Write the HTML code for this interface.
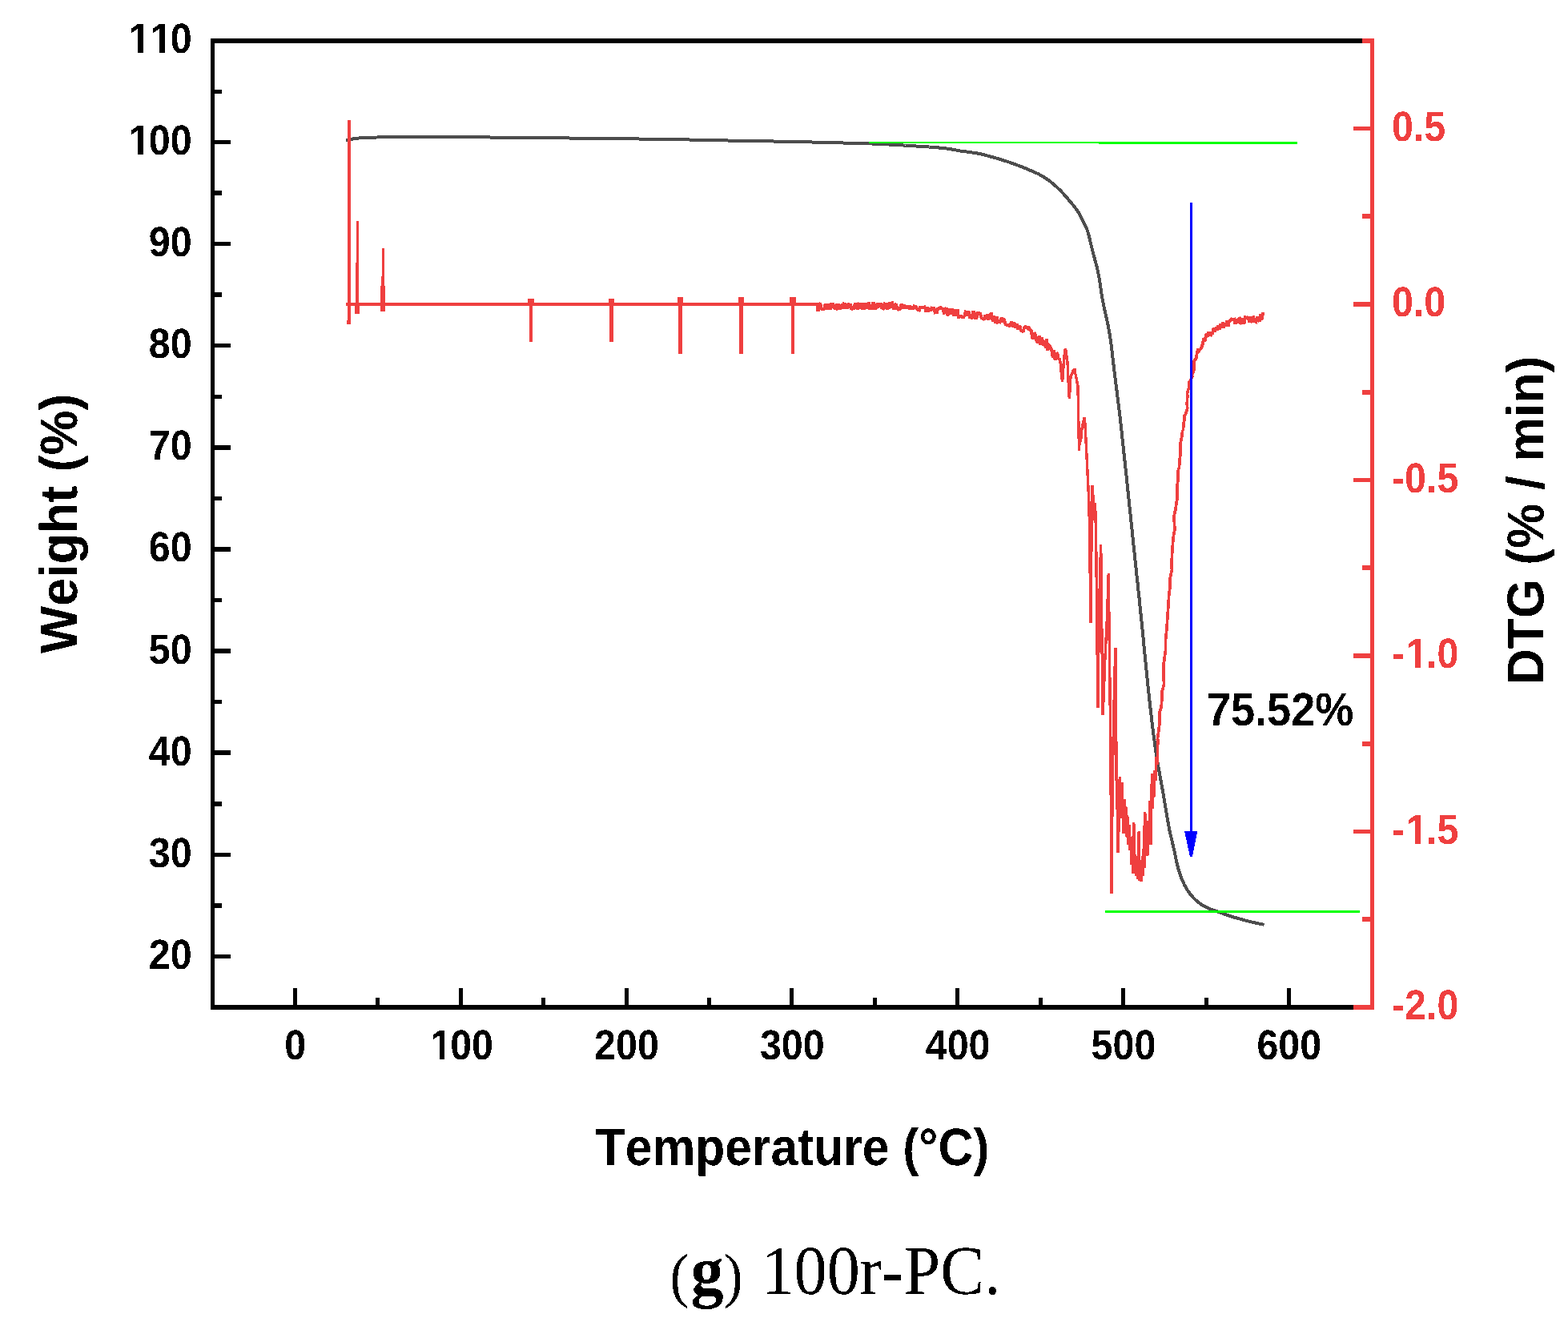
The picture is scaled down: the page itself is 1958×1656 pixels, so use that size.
<!DOCTYPE html>
<html lang="en"><head><meta charset="utf-8"><title>(g) 100r-PC. TG / DTG</title>
<style>
html,body{margin:0;padding:0;background:#ffffff;}
body{width:1958px;height:1656px;overflow:hidden;}
svg{display:block;}
text{font-kerning:none;text-rendering:geometricPrecision;}
.sb{font-family:"Liberation Sans",Arial,Helvetica,sans-serif;font-weight:bold;}
.sf{font-family:"Liberation Serif","Times New Roman",Times,serif;}
</style></head><body>
<svg width="1958" height="1656" viewBox="0 0 1958 1656">
<rect x="0" y="0" width="1958" height="1656" fill="#ffffff"/>
<defs><filter id="bw" x="-5%" y="-5%" width="110%" height="110%" color-interpolation-filters="sRGB"><feComponentTransfer><feFuncA type="discrete" tableValues="0 1"/></feComponentTransfer></filter><clipPath id="k0"><path clip-rule="evenodd" d="M-400,-200H400V100H-400ZM-77.20,-4.94H-67.46V3H-77.20ZM-60.82,-4.94H-52.18V3H-60.82Z"/></clipPath><clipPath id="k1"><path clip-rule="evenodd" d="M-400,-200H400V100H-400ZM-77.20,-4.94H-67.46V3H-77.20ZM-60.82,-4.94H-52.18V3H-60.82ZM-50.29,-4.94H-40.54V3H-50.29ZM-33.90,-4.94H-25.26V3H-33.90Z"/></clipPath><clipPath id="k2"><path clip-rule="evenodd" d="M-400,-200H400V100H-400ZM-36.83,-4.94H-27.08V3H-36.83ZM-20.44,-4.94H-11.81V3H-20.44Z"/></clipPath><clipPath id="k3"><path clip-rule="evenodd" d="M-400,-200H400V100H-400ZM19.67,-4.94H29.41V3H19.67ZM36.05,-4.94H44.69V3H36.05Z"/></clipPath><clipPath id="k4"><path clip-rule="evenodd" d="M-400,-200H400V100H-400ZM19.67,-4.94H29.41V3H19.67ZM36.05,-4.94H44.69V3H36.05Z"/></clipPath></defs>
<path d="M432.0,175.5 L434.9,174.8 L437.9,174.1 L440.8,173.4 L443.7,172.8 L446.7,172.6 L449.7,172.4 L452.7,172.3 L455.7,172.2 L458.7,172.1 L461.7,171.9 L464.7,171.8 L467.7,171.6 L470.7,171.5 L473.7,171.4 L476.7,171.4 L479.7,171.4 L482.7,171.3 L485.7,171.3 L488.7,171.3 L491.7,171.3 L494.7,171.3 L497.7,171.3 L500.7,171.2 L503.7,171.2 L506.7,171.2 L509.7,171.2 L512.7,171.2 L515.7,171.2 L518.7,171.2 L521.7,171.2 L524.7,171.2 L527.7,171.2 L530.7,171.2 L533.7,171.2 L536.7,171.2 L539.7,171.2 L542.7,171.2 L545.7,171.2 L548.7,171.2 L551.7,171.2 L554.7,171.2 L557.7,171.3 L560.7,171.3 L563.7,171.3 L566.7,171.3 L569.7,171.3 L572.7,171.3 L575.7,171.3 L578.7,171.3 L581.7,171.3 L584.7,171.3 L587.7,171.4 L590.7,171.4 L593.7,171.4 L596.7,171.4 L599.7,171.4 L602.7,171.4 L605.7,171.4 L608.7,171.4 L611.7,171.5 L614.7,171.5 L617.7,171.5 L620.7,171.5 L623.7,171.6 L626.7,171.6 L629.7,171.6 L632.7,171.7 L635.7,171.7 L638.7,171.7 L641.7,171.8 L644.7,171.8 L647.7,171.8 L650.7,171.9 L653.7,171.9 L656.7,171.9 L659.7,172.0 L662.7,172.0 L665.7,172.0 L668.7,172.1 L671.7,172.1 L674.7,172.1 L677.7,172.1 L680.7,172.2 L683.7,172.2 L686.7,172.2 L689.7,172.3 L692.7,172.3 L695.7,172.3 L698.7,172.3 L701.7,172.4 L704.7,172.4 L707.7,172.4 L710.7,172.5 L713.7,172.5 L716.7,172.5 L719.7,172.5 L722.7,172.6 L725.7,172.6 L728.7,172.6 L731.7,172.7 L734.7,172.7 L737.7,172.7 L740.7,172.8 L743.7,172.8 L746.7,172.8 L749.7,172.9 L752.7,172.9 L755.7,172.9 L758.7,173.0 L761.7,173.0 L764.7,173.0 L767.7,173.1 L770.7,173.1 L773.7,173.1 L776.7,173.2 L779.7,173.2 L782.7,173.3 L785.7,173.3 L788.7,173.3 L791.7,173.4 L794.7,173.4 L797.7,173.5 L800.7,173.5 L803.7,173.6 L806.7,173.6 L809.7,173.7 L812.7,173.7 L815.7,173.7 L818.7,173.8 L821.7,173.8 L824.7,173.9 L827.7,173.9 L830.7,174.0 L833.7,174.0 L836.7,174.1 L839.7,174.1 L842.7,174.2 L845.7,174.2 L848.7,174.3 L851.7,174.3 L854.6,174.4 L857.6,174.4 L860.6,174.5 L863.6,174.5 L866.6,174.6 L869.6,174.7 L872.6,174.7 L875.6,174.8 L878.6,174.8 L881.6,174.9 L884.6,175.0 L887.6,175.0 L890.6,175.1 L893.6,175.2 L896.6,175.2 L899.6,175.3 L902.6,175.3 L905.6,175.4 L908.6,175.5 L911.6,175.5 L914.6,175.6 L917.6,175.6 L920.6,175.7 L923.6,175.8 L926.6,175.8 L929.6,175.9 L932.6,175.9 L935.6,176.0 L938.6,176.0 L941.6,176.1 L944.6,176.1 L947.6,176.2 L950.6,176.2 L953.6,176.3 L956.6,176.3 L959.6,176.4 L962.6,176.4 L965.6,176.5 L968.6,176.5 L971.6,176.6 L974.6,176.6 L977.6,176.7 L980.6,176.7 L983.6,176.8 L986.6,176.8 L989.6,176.9 L992.6,177.0 L995.6,177.0 L998.6,177.1 L1001.6,177.2 L1004.6,177.2 L1007.6,177.3 L1010.6,177.4 L1013.6,177.5 L1016.6,177.6 L1019.6,177.7 L1022.6,177.7 L1025.6,177.8 L1028.6,177.9 L1031.6,178.0 L1034.6,178.0 L1037.6,178.1 L1040.6,178.2 L1043.6,178.2 L1046.6,178.3 L1049.6,178.4 L1052.6,178.5 L1055.6,178.5 L1058.6,178.6 L1061.6,178.7 L1064.6,178.7 L1067.6,178.8 L1070.6,178.9 L1073.6,179.0 L1076.6,179.1 L1079.6,179.2 L1082.6,179.3 L1085.6,179.4 L1088.6,179.5 L1091.6,179.6 L1094.6,179.8 L1097.6,179.9 L1100.6,180.0 L1103.6,180.2 L1106.6,180.3 L1109.6,180.5 L1112.6,180.7 L1115.6,180.8 L1118.6,181.0 L1121.6,181.2 L1124.5,181.3 L1127.5,181.5 L1130.5,181.7 L1133.5,181.8 L1136.5,182.0 L1139.5,182.2 L1142.5,182.4 L1145.5,182.6 L1148.5,182.7 L1151.5,182.9 L1154.5,183.1 L1157.5,183.3 L1160.5,183.6 L1163.5,183.8 L1166.5,184.0 L1169.5,184.3 L1172.5,184.5 L1175.4,184.8 L1178.4,185.1 L1181.4,185.4 L1184.4,185.8 L1187.3,186.3 L1190.3,186.8 L1193.2,187.4 L1196.2,188.0 L1199.1,188.5 L1202.1,188.9 L1205.1,189.3 L1208.1,189.6 L1211.0,190.0 L1214.0,190.5 L1217.0,190.9 L1219.9,191.4 L1222.9,192.0 L1225.8,192.6 L1228.7,193.3 L1231.6,194.1 L1234.5,195.0 L1237.4,195.8 L1240.3,196.5 L1243.2,197.3 L1246.1,198.1 L1248.9,199.0 L1251.8,199.9 L1254.7,200.8 L1257.5,201.7 L1260.4,202.7 L1263.2,203.7 L1266.0,204.6 L1268.9,205.7 L1271.7,206.7 L1274.5,207.8 L1277.3,208.9 L1280.0,210.0 L1282.8,211.2 L1285.6,212.4 L1288.3,213.6 L1291.1,214.8 L1293.8,216.0 L1296.5,217.2 L1299.2,218.6 L1301.8,220.1 L1304.3,221.7 L1306.9,223.4 L1309.3,225.1 L1311.7,226.9 L1314.1,228.7 L1316.4,230.7 L1318.6,232.7 L1320.8,234.7 L1323.0,236.8 L1325.1,238.9 L1327.1,241.1 L1329.1,243.3 L1331.1,245.6 L1333.1,247.9 L1335.0,250.2 L1337.0,252.4 L1338.9,254.7 L1340.8,257.1 L1342.6,259.4 L1344.4,261.9 L1346.1,264.4 L1347.7,266.9 L1349.1,269.5 L1350.5,272.2 L1351.9,274.8 L1353.2,277.5 L1354.5,280.2 L1355.9,283.0 L1357.1,285.7 L1358.1,288.5 L1359.0,291.4 L1359.7,294.3 L1360.4,297.2 L1361.1,300.1 L1361.8,303.1 L1362.5,306.0 L1363.2,308.9 L1363.9,311.8 L1364.7,314.7 L1365.4,317.6 L1366.2,320.5 L1367.0,323.4 L1367.8,326.3 L1368.6,329.2 L1369.4,332.1 L1370.0,335.0 L1370.7,337.9 L1371.3,340.9 L1371.9,343.8 L1372.5,346.7 L1373.0,349.7 L1373.5,352.7 L1373.9,355.6 L1374.3,358.6 L1374.7,361.6 L1375.2,364.5 L1375.6,367.5 L1376.1,370.5 L1376.6,373.4 L1377.2,376.4 L1377.8,379.3 L1378.4,382.2 L1379.0,385.2 L1379.7,388.1 L1380.3,391.0 L1381.0,394.0 L1381.6,396.9 L1382.3,399.8 L1382.9,402.8 L1383.6,405.7 L1384.1,408.7 L1384.7,411.6 L1385.2,414.5 L1385.7,417.5 L1386.2,420.5 L1386.6,423.4 L1387.0,426.4 L1387.4,429.4 L1387.8,432.3 L1388.2,435.3 L1388.5,438.3 L1388.9,441.3 L1389.2,444.3 L1389.5,447.2 L1389.9,450.2 L1390.2,453.2 L1390.6,456.2 L1390.9,459.2 L1391.3,462.2 L1391.6,465.1 L1392.0,468.1 L1392.4,471.1 L1392.7,474.1 L1393.1,477.0 L1393.5,480.0 L1393.9,483.0 L1394.3,486.0 L1394.7,488.9 L1395.0,491.9 L1395.4,494.9 L1395.8,497.9 L1396.2,500.8 L1396.5,503.8 L1396.9,506.8 L1397.3,509.8 L1397.6,512.8 L1398.0,515.7 L1398.3,518.7 L1398.7,521.7 L1399.0,524.7 L1399.3,527.7 L1399.7,530.6 L1400.0,533.6 L1400.3,536.6 L1400.7,539.6 L1401.0,542.6 L1401.3,545.5 L1401.6,548.5 L1401.9,551.5 L1402.3,554.5 L1402.6,557.5 L1402.9,560.5 L1403.2,563.4 L1403.5,566.4 L1403.8,569.4 L1404.2,572.4 L1404.5,575.4 L1404.8,578.4 L1405.1,581.3 L1405.4,584.3 L1405.7,587.3 L1406.0,590.3 L1406.4,593.3 L1406.7,596.3 L1407.0,599.2 L1407.3,602.2 L1407.6,605.2 L1407.9,608.2 L1408.2,611.2 L1408.6,614.2 L1408.9,617.1 L1409.2,620.1 L1409.5,623.1 L1409.8,626.1 L1410.1,629.1 L1410.4,632.1 L1410.7,635.1 L1411.1,638.0 L1411.4,641.0 L1411.7,644.0 L1412.0,647.0 L1412.3,650.0 L1412.6,653.0 L1412.9,655.9 L1413.2,658.9 L1413.6,661.9 L1413.9,664.9 L1414.2,667.9 L1414.5,670.9 L1414.8,673.8 L1415.1,676.8 L1415.4,679.8 L1415.7,682.8 L1416.1,685.8 L1416.4,688.8 L1416.7,691.7 L1417.0,694.7 L1417.3,697.7 L1417.6,700.7 L1417.9,703.7 L1418.3,706.7 L1418.6,709.6 L1418.9,712.6 L1419.2,715.6 L1419.5,718.6 L1419.8,721.6 L1420.2,724.6 L1420.5,727.5 L1420.8,730.5 L1421.1,733.5 L1421.4,736.5 L1421.7,739.5 L1422.1,742.5 L1422.4,745.4 L1422.7,748.4 L1423.0,751.4 L1423.3,754.4 L1423.6,757.4 L1423.9,760.4 L1424.2,763.4 L1424.5,766.3 L1424.8,769.3 L1425.1,772.3 L1425.4,775.3 L1425.7,778.3 L1426.0,781.3 L1426.3,784.3 L1426.6,787.2 L1426.9,790.2 L1427.2,793.2 L1427.5,796.2 L1427.8,799.2 L1428.1,802.2 L1428.4,805.2 L1428.6,808.2 L1428.9,811.2 L1429.2,814.1 L1429.5,817.1 L1429.8,820.1 L1430.1,823.1 L1430.4,826.1 L1430.7,829.1 L1431.0,832.1 L1431.3,835.1 L1431.6,838.0 L1431.9,841.0 L1432.2,844.0 L1432.5,847.0 L1432.8,850.0 L1433.1,853.0 L1433.4,856.0 L1433.7,858.9 L1434.0,861.9 L1434.4,864.9 L1434.7,867.9 L1435.0,870.9 L1435.3,873.9 L1435.7,876.8 L1436.0,879.8 L1436.3,882.8 L1436.7,885.8 L1437.0,888.8 L1437.3,891.7 L1437.7,894.7 L1438.0,897.7 L1438.4,900.7 L1438.7,903.7 L1439.1,906.6 L1439.5,909.6 L1439.8,912.6 L1440.2,915.6 L1440.6,918.5 L1441.0,921.5 L1441.4,924.5 L1441.8,927.4 L1442.2,930.4 L1442.6,933.4 L1443.0,936.3 L1443.4,939.3 L1443.8,942.3 L1444.3,945.2 L1444.8,948.2 L1445.2,951.1 L1445.8,954.1 L1446.3,957.1 L1446.8,960.0 L1447.4,963.0 L1447.9,965.9 L1448.5,968.9 L1449.0,971.8 L1449.6,974.8 L1450.1,977.7 L1450.7,980.7 L1451.2,983.6 L1451.7,986.6 L1452.3,989.5 L1452.8,992.5 L1453.3,995.4 L1453.8,998.4 L1454.3,1001.4 L1454.7,1004.3 L1455.2,1007.3 L1455.7,1010.3 L1456.2,1013.2 L1456.7,1016.2 L1457.2,1019.1 L1457.7,1022.1 L1458.2,1025.0 L1458.8,1028.0 L1459.3,1030.9 L1459.9,1033.9 L1460.4,1036.8 L1461.1,1039.8 L1461.7,1042.7 L1462.4,1045.6 L1463.1,1048.5 L1463.8,1051.4 L1464.5,1054.4 L1465.2,1057.3 L1465.8,1060.2 L1466.5,1063.1 L1467.1,1066.1 L1467.7,1069.0 L1468.3,1072.0 L1468.9,1074.9 L1469.6,1077.8 L1470.3,1080.8 L1471.0,1083.6 L1471.9,1086.5 L1472.8,1089.4 L1473.7,1092.3 L1474.7,1095.1 L1475.8,1098.0 L1477.0,1100.7 L1478.2,1103.4 L1479.5,1106.0 L1481.0,1108.7 L1482.6,1111.3 L1484.3,1113.8 L1486.1,1116.3 L1488.0,1118.6 L1489.9,1120.8 L1492.0,1122.9 L1494.2,1125.0 L1496.5,1126.9 L1499.0,1128.8 L1501.5,1130.5 L1504.1,1132.0 L1506.7,1133.3 L1509.4,1134.5 L1512.2,1135.6 L1515.0,1136.6 L1517.9,1137.6 L1520.8,1138.6 L1523.6,1139.6 L1526.4,1140.7 L1529.2,1141.7 L1532.1,1142.7 L1534.9,1143.6 L1537.8,1144.6 L1540.6,1145.5 L1543.5,1146.3 L1546.4,1147.1 L1549.3,1147.9 L1552.2,1148.7 L1555.1,1149.5 L1558.0,1150.2 L1560.9,1151.0 L1563.8,1151.7 L1566.7,1152.3 L1569.7,1153.0 L1572.6,1153.6 L1575.5,1154.2 L1578.5,1154.8 L1578.5,1154.8" fill="none" stroke="#4d4d4d" stroke-width="4.0" stroke-linejoin="round" stroke-linecap="butt" shape-rendering="crispEdges"/>
<g shape-rendering="crispEdges" fill="#ef3f3f">
<rect x="432" y="378" width="589" height="4"/>
<rect x="434" y="150" width="4" height="255"/>
<rect x="433" y="400" width="5" height="5"/>
<rect x="445" y="276" width="3" height="60"/>
<rect x="444" y="328" width="4" height="64"/>
<rect x="443" y="381" width="6" height="11"/>
<rect x="477" y="310" width="3" height="50"/>
<rect x="476" y="345" width="4" height="44"/>
<rect x="475" y="357" width="6" height="32"/>
<rect x="659" y="373" width="8" height="6"/>
<rect x="661" y="373" width="4" height="54"/>
<rect x="760" y="373" width="7" height="6"/>
<rect x="761" y="373" width="5" height="54"/>
<rect x="846" y="371" width="7" height="8"/>
<rect x="847" y="371" width="5" height="71"/>
<rect x="922" y="371" width="7" height="8"/>
<rect x="923" y="371" width="5" height="71"/>
<rect x="986" y="371" width="8" height="8"/>
<rect x="988" y="371" width="4" height="71"/>
</g>
<path d="M1020.5,380.0 L1021.5,389.0 L1023.0,379.5 L1023.8,379.2 L1024.4,378.7 L1025.1,386.7 L1026.0,385.5 L1026.9,385.9 L1027.9,386.1 L1028.9,386.1 L1029.8,384.5 L1030.8,378.9 L1031.8,386.5 L1032.6,379.6 L1033.7,384.6 L1034.4,386.6 L1035.2,385.1 L1036.1,379.8 L1036.9,386.5 L1037.9,378.6 L1039.0,384.8 L1040.0,378.5 L1040.9,384.9 L1041.9,380.0 L1042.6,386.7 L1043.2,379.7 L1043.9,386.2 L1044.9,385.8 L1045.5,385.2 L1046.6,379.4 L1047.7,384.6 L1048.6,384.8 L1049.4,384.8 L1050.0,379.9 L1051.1,385.3 L1051.9,379.1 L1052.8,385.8 L1053.9,379.6 L1054.8,379.9 L1055.9,379.3 L1056.5,385.7 L1057.1,379.1 L1057.8,385.5 L1058.7,379.0 L1059.7,380.5 L1060.6,380.0 L1061.4,385.1 L1062.2,379.8 L1063.1,385.3 L1064.1,385.7 L1065.1,384.9 L1066.1,384.8 L1066.9,384.6 L1067.7,378.7 L1068.5,384.8 L1069.3,378.6 L1070.1,380.3 L1070.9,386.3 L1072.0,380.0 L1073.0,378.7 L1073.7,379.9 L1074.7,379.8 L1075.5,385.3 L1076.6,384.4 L1077.7,386.7 L1078.5,378.5 L1079.2,386.3 L1080.1,379.9 L1080.9,380.5 L1081.8,378.7 L1082.4,386.0 L1083.5,378.5 L1084.4,378.9 L1085.1,379.1 L1085.9,386.6 L1086.8,380.0 L1087.9,386.2 L1088.6,385.6 L1089.7,378.8 L1090.7,378.7 L1091.3,386.4 L1091.9,380.0 L1092.8,385.5 L1093.8,384.5 L1094.5,380.5 L1095.5,380.4 L1096.4,385.1 L1097.2,379.3 L1098.0,379.9 L1098.6,379.0 L1099.4,380.2 L1100.2,378.8 L1101.0,385.8 L1101.8,379.5 L1102.7,386.0 L1103.6,385.6 L1104.5,379.6 L1105.3,378.4 L1106.1,386.2 L1106.9,380.3 L1107.9,386.4 L1108.9,378.9 L1109.7,379.3 L1110.3,386.2 L1111.0,380.4 L1112.0,384.4 L1113.0,378.7 L1114.0,378.4 L1114.9,384.5 L1115.8,379.1 L1116.5,386.6 L1117.1,379.6 L1119.0,380.8 L1120.4,384.9 L1121.8,386.5 L1123.6,386.0 L1124.9,381.5 L1126.1,380.2 L1127.9,385.6 L1129.2,380.8 L1131.0,385.5 L1132.6,381.7 L1133.8,385.7 L1135.7,382.0 L1137.0,386.7 L1138.9,382.4 L1140.3,386.6 L1141.5,382.3 L1142.6,382.7 L1143.9,383.1 L1145.3,386.5 L1146.7,387.2 L1148.0,387.5 L1149.3,383.0 L1150.5,384.1 L1152.2,384.2 L1153.5,383.9 L1154.6,383.3 L1156.5,389.3 L1157.6,383.3 L1159.3,389.8 L1161.0,384.7 L1162.2,388.7 L1163.6,384.8 L1164.6,385.2 L1166.4,385.1 L1167.5,390.1 L1168.8,389.5 L1170.0,389.9 L1171.1,385.5 L1173.0,384.9 L1174.7,384.0 L1176.2,385.4 L1177.3,385.9 L1179.2,392.1 L1180.2,386.1 L1181.5,384.5 L1182.7,393.8 L1184.2,392.6 L1186.1,385.2 L1187.8,392.2 L1189.0,385.3 L1190.9,394.1 L1192.7,386.1 L1194.2,394.6 L1195.5,386.2 L1196.6,395.6 L1198.3,395.6 L1199.4,395.2 L1200.5,395.2 L1202.1,396.2 L1203.3,396.3 L1204.4,394.4 L1206.2,388.0 L1207.7,395.0 L1209.4,388.4 L1211.1,396.3 L1212.2,396.6 L1213.7,396.8 L1214.9,389.6 L1216.4,389.6 L1218.2,397.2 L1219.6,396.8 L1220.8,390.0 L1222.0,391.0 L1223.8,391.7 L1225.6,397.0 L1227.5,397.8 L1229.3,399.1 L1230.5,393.3 L1231.7,398.7 L1233.2,392.3 L1234.3,399.9 L1235.8,393.2 L1236.9,392.3 L1238.2,392.0 L1239.9,401.8 L1241.2,393.9 L1243.1,403.4 L1244.8,394.9 L1246.0,402.2 L1247.6,401.6 L1248.8,402.1 L1250.7,396.3 L1252.0,402.3 L1253.5,398.0 L1255.1,403.5 L1256.2,405.5 L1258.0,405.9 L1259.9,406.1 L1261.4,407.6 L1263.1,401.6 L1264.7,408.5 L1266.3,402.3 L1268.2,409.8 L1270.1,404.7 L1271.3,411.5 L1273.3,406.5 L1274.7,412.5 L1276.1,413.0 L1277.7,414.7 L1279.0,409.0 L1280.2,408.0 L1282.2,408.9 L1283.5,410.2 L1284.8,408.3 L1286.5,412.3 L1287.8,413.6 L1289.6,423.3 L1291.5,415.2 L1292.7,417.8 L1294.0,424.5 L1296.0,428.3 L1297.6,419.3 L1299.6,431.0 L1301.1,420.9 L1302.7,431.5 L1304.5,425.4 L1305.7,434.4 L1307.1,423.4 L1308.4,437.6 L1309.5,430.4 L1311.4,433.2 L1313.2,436.3 L1314.8,446.6 L1316.0,437.5 L1317.7,450.2 L1319.1,440.5 L1320.6,442.5" fill="none" stroke="#ef3f3f" stroke-width="4.0" stroke-linejoin="miter" stroke-miterlimit="1.6" stroke-linecap="square" shape-rendering="crispEdges"/>
<path d="M1320.6,442.5 L1322.0,449.0 L1323.0,447.8 L1324.0,452.0 L1325.3,466.0 L1326.6,477.0 L1327.5,464.6 L1328.5,450.0 L1329.2,443.3 L1330.0,437.0 L1330.8,436.7 L1331.5,441.0 L1332.2,448.8 L1333.0,452.0 L1334.2,477.5 L1335.3,498.0 L1336.2,484.1 L1337.0,470.0 L1338.0,468.0 L1339.0,466.0 L1340.0,462.4 L1341.0,463.0 L1341.8,460.5 L1342.5,466.0 L1343.2,468.0 L1344.0,472.0 L1345.0,477.7 L1346.0,482.0 L1347.5,563.0 L1348.3,545.0 L1349.5,552.0 L1351.0,535.0 L1352.5,528.0 L1354.4,521.0 L1355.5,540.0 L1357.0,570.0 L1358.5,600.0 L1360.0,630.0 L1361.0,700.0 L1362.0,778.0 L1362.8,690.0 L1363.8,606.0 L1365.0,620.0 L1366.0,650.0 L1367.0,628.0 L1368.0,640.0 L1369.0,700.0 L1370.0,800.0 L1371.0,884.0 L1372.0,800.0 L1373.5,720.0 L1374.7,680.0 L1375.5,760.0 L1376.5,840.0 L1377.2,893.0 L1378.5,860.0 L1379.5,830.0 L1381.0,800.0 L1382.5,770.0 L1384.3,716.0 L1385.2,800.0 L1386.0,860.0 L1387.0,960.0 L1388.0,1116.0 L1389.0,1000.0 L1390.0,930.0 L1391.5,860.0 L1392.8,809.0 L1393.6,900.0 L1394.5,1010.0 L1394.8,972.6 L1395.2,1010.7 L1395.5,975.0 L1395.8,974.9 L1396.2,1065.0 L1396.5,1062.0 L1397.5,990.0 L1398.5,970.0 L1399.5,1020.0 L1399.8,979.0 L1400.2,1021.5 L1400.5,980.0 L1401.0,977.1 L1401.5,1011.1 L1402.0,1010.0 L1402.3,1007.5 L1402.7,1040.4 L1403.0,1040.0 L1404.0,1000.0 L1404.3,998.3 L1404.7,1031.0 L1405.0,1030.0 L1405.3,1007.4 L1405.7,1030.1 L1406.0,1008.0 L1407.0,1045.0 L1407.3,1017.7 L1407.7,1045.6 L1408.0,1020.0 L1409.0,1055.0 L1410.0,1030.0 L1411.0,1062.0 L1412.0,1045.0 L1413.0,1080.0 L1414.0,1060.0 L1414.3,1058.6 L1414.7,1090.5 L1415.0,1088.0 L1415.3,1027.2 L1415.7,1090.7 L1416.0,1030.0 L1416.3,1028.9 L1416.7,1086.4 L1417.0,1085.0 L1417.3,1067.0 L1417.7,1086.2 L1418.0,1070.0 L1418.3,1069.7 L1418.7,1094.2 L1419.0,1092.0 L1420.0,1078.0 L1420.3,1076.5 L1420.7,1097.7 L1421.0,1096.0 L1422.0,1040.0 L1422.3,1038.2 L1422.7,1099.7 L1423.0,1098.0 L1424.0,1085.0 L1424.4,1084.5 L1424.8,1101.0 L1425.2,1100.0 L1426.0,1075.0 L1426.3,1073.2 L1426.7,1092.9 L1427.0,1092.0 L1427.3,1059.8 L1427.7,1094.4 L1428.0,1060.0 L1429.0,1082.0 L1429.3,1013.9 L1429.7,1084.0 L1430.0,1016.0 L1431.0,1068.0 L1432.0,1040.0 L1432.3,1037.0 L1432.7,1068.9 L1433.0,1066.0 L1434.0,1025.0 L1435.0,1050.0 L1436.0,1000.0 L1437.0,1055.0 L1437.8,990.0 L1438.7,966.0 L1439.5,1010.0 L1440.3,975.0 L1441.0,995.0 L1442.0,962.0 L1443.0,975.0 L1444.0,945.0 L1445.0,955.0 L1446.0,925.0" fill="none" stroke="#ef3f3f" stroke-width="3.4" stroke-linejoin="miter" stroke-miterlimit="1.6" stroke-linecap="square" shape-rendering="crispEdges"/>
<path d="M1446.0,925.0 L1445.3,923.5 L1447.1,910.5 L1448.0,903.5 L1448.0,889.4 L1450.0,883.6 L1450.9,873.7 L1450.8,864.2 L1453.4,855.5 L1453.3,843.6 L1453.0,830.1 L1454.9,816.8 L1455.5,812.2 L1455.4,801.2 L1457.1,783.1 L1458.0,768.6 L1459.0,755.6 L1459.7,743.3 L1461.4,730.9 L1460.6,724.0 L1463.4,712.1 L1463.0,703.8 L1463.6,691.7 L1464.5,679.4 L1465.2,670.7 L1466.9,661.8 L1466.0,644.4 L1467.7,637.2 L1469.4,625.9 L1470.0,622.5 L1470.0,606.9 L1470.9,600.7 L1470.7,589.3 L1472.5,583.4 L1473.4,571.7 L1474.2,566.2 L1473.8,554.3 L1475.1,549.5 L1476.8,537.3 L1477.4,537.9 L1478.0,529.4 L1479.0,523.7 L1479.1,518.8 L1480.5,517.8 L1482.7,509.7 L1482.2,504.3 L1482.8,494.6 L1482.5,490.7 L1484.4,484.9 L1485.3,480.4 L1484.9,475.6 L1485.6,476.4 L1488.8,470.7 L1488.6,467.9 L1490.6,463.2 L1491.3,460.6 L1491.1,453.5 L1490.9,451.4 L1492.7,448.2 L1493.4,449.8 L1494.4,442.5 L1495.1,439.6 L1496.1,435.9 L1496.7,438.8" fill="none" stroke="#ef3f3f" stroke-width="3.7" stroke-linejoin="miter" stroke-miterlimit="1.6" stroke-linecap="square" shape-rendering="crispEdges"/>
<path d="M1496.7,438.8 L1498.0,437.0 L1499.6,435.2 L1501.4,431.1 L1502.9,424.5 L1504.8,424.9 L1506.6,416.8 L1507.9,420.6 L1509.6,414.2 L1511.3,419.7 L1512.9,416.3 L1514.1,416.2 L1515.5,410.0 L1517.0,414.2 L1518.6,408.8 L1519.8,412.7 L1521.3,406.2 L1522.9,411.5 L1524.4,404.8 L1525.6,410.0 L1526.8,402.7 L1528.2,409.1 L1529.5,403.5 L1530.7,407.9 L1532.3,400.9 L1533.8,407.3 L1534.9,401.0 L1536.2,400.1 L1537.8,398.4 L1539.4,399.0 L1541.3,398.6 L1542.4,405.1 L1543.8,398.2 L1545.3,403.9 L1546.8,398.2 L1547.9,397.8 L1549.0,403.3 L1550.4,404.0 L1551.9,397.2 L1553.3,404.5 L1555.0,396.4 L1556.9,397.1 L1558.5,395.9 L1560.1,402.5 L1561.9,396.0 L1563.7,403.1 L1564.8,394.9 L1566.7,401.4 L1568.3,402.0 L1570.2,395.4 L1571.3,400.3 L1572.5,401.4 L1573.9,392.7 L1575.5,399.3 L1577.0,391.9" fill="none" stroke="#ef3f3f" stroke-width="4.0" stroke-linejoin="miter" stroke-miterlimit="1.6" stroke-linecap="square" shape-rendering="crispEdges"/>
<g shape-rendering="crispEdges">
<rect x="1085" y="177" width="535" height="2" fill="#00ff00"/>
<rect x="1372" y="177" width="248" height="3" fill="#00ff00"/>
<rect x="1380" y="1137" width="318" height="3" fill="#00ff00"/>
</g>
<g shape-rendering="crispEdges"><rect x="1486" y="253" width="3" height="790" fill="#0000ff"/></g>
<path d="M1479,1038 L1495.4,1038 L1489,1070 L1486,1070 Z" fill="#0000ff" shape-rendering="crispEdges"/>
<g shape-rendering="crispEdges">
<rect x="263" y="48" width="5" height="1213" fill="#000"/>
<rect x="263" y="48" width="1438" height="6" fill="#000"/>
<rect x="263" y="1255" width="1427" height="6" fill="#000"/>
<rect x="1711" y="48" width="5" height="1213" fill="#ef3f3f"/>
<rect x="1701" y="48" width="15" height="6" fill="#ef3f3f"/>
<rect x="1690" y="1255" width="26" height="6" fill="#ef3f3f"/>
<rect x="268" y="1192" width="20" height="5" fill="#000"/>
<rect x="268" y="1128" width="9" height="6" fill="#000"/>
<rect x="268" y="1065" width="20" height="5" fill="#000"/>
<rect x="268" y="1001" width="9" height="6" fill="#000"/>
<rect x="268" y="937" width="20" height="6" fill="#000"/>
<rect x="268" y="874" width="9" height="5" fill="#000"/>
<rect x="268" y="810" width="20" height="6" fill="#000"/>
<rect x="268" y="747" width="9" height="5" fill="#000"/>
<rect x="268" y="683" width="20" height="6" fill="#000"/>
<rect x="268" y="620" width="9" height="5" fill="#000"/>
<rect x="268" y="556" width="20" height="6" fill="#000"/>
<rect x="268" y="493" width="9" height="5" fill="#000"/>
<rect x="268" y="429" width="20" height="5" fill="#000"/>
<rect x="268" y="365" width="9" height="6" fill="#000"/>
<rect x="268" y="302" width="20" height="5" fill="#000"/>
<rect x="268" y="238" width="9" height="6" fill="#000"/>
<rect x="268" y="175" width="20" height="5" fill="#000"/>
<rect x="268" y="112" width="9" height="5" fill="#000"/>
<rect x="366" y="1234" width="5" height="21" fill="#000"/>
<rect x="469" y="1246" width="5" height="9" fill="#000"/>
<rect x="573" y="1234" width="5" height="21" fill="#000"/>
<rect x="676" y="1246" width="5" height="9" fill="#000"/>
<rect x="780" y="1234" width="5" height="21" fill="#000"/>
<rect x="883" y="1246" width="5" height="9" fill="#000"/>
<rect x="986" y="1234" width="5" height="21" fill="#000"/>
<rect x="1090" y="1246" width="5" height="9" fill="#000"/>
<rect x="1193" y="1234" width="5" height="21" fill="#000"/>
<rect x="1297" y="1246" width="5" height="9" fill="#000"/>
<rect x="1400" y="1234" width="5" height="21" fill="#000"/>
<rect x="1504" y="1246" width="5" height="9" fill="#000"/>
<rect x="1607" y="1234" width="5" height="21" fill="#000"/>
<rect x="1701" y="1145" width="10" height="6" fill="#ef3f3f"/>
<rect x="1690" y="1036" width="21" height="5" fill="#ef3f3f"/>
<rect x="1701" y="926" width="10" height="6" fill="#ef3f3f"/>
<rect x="1690" y="816" width="21" height="6" fill="#ef3f3f"/>
<rect x="1701" y="706" width="10" height="6" fill="#ef3f3f"/>
<rect x="1690" y="597" width="21" height="5" fill="#ef3f3f"/>
<rect x="1701" y="487" width="10" height="6" fill="#ef3f3f"/>
<rect x="1690" y="377" width="21" height="6" fill="#ef3f3f"/>
<rect x="1701" y="267" width="10" height="6" fill="#ef3f3f"/>
<rect x="1690" y="158" width="21" height="5" fill="#ef3f3f"/>
</g>
<g filter="url(#bw)">
<text class="sb" transform="translate(239.60,1209.90) scale(1.0,1.088)" x="-53.84 -26.92" y="0" font-size="48.4" fill="#000">20</text>
<text class="sb" transform="translate(239.60,1082.77) scale(1.0,1.088)" x="-53.84 -26.92" y="0" font-size="48.4" fill="#000">30</text>
<text class="sb" transform="translate(239.60,955.65) scale(1.0,1.088)" x="-53.84 -26.92" y="0" font-size="48.4" fill="#000">40</text>
<text class="sb" transform="translate(239.60,828.52) scale(1.0,1.088)" x="-53.84 -26.92" y="0" font-size="48.4" fill="#000">50</text>
<text class="sb" transform="translate(239.60,701.40) scale(1.0,1.088)" x="-53.84 -26.92" y="0" font-size="48.4" fill="#000">60</text>
<text class="sb" transform="translate(239.60,574.27) scale(1.0,1.088)" x="-53.84 -26.92" y="0" font-size="48.4" fill="#000">70</text>
<text class="sb" transform="translate(239.60,447.15) scale(1.0,1.088)" x="-53.84 -26.92" y="0" font-size="48.4" fill="#000">80</text>
<text class="sb" transform="translate(239.60,320.02) scale(1.0,1.088)" x="-53.84 -26.92" y="0" font-size="48.4" fill="#000">90</text>
<text class="sb" transform="translate(239.60,192.90) scale(1.0,1.088)" x="-78.75 -53.84 -26.92" y="0" font-size="48.4" fill="#000" clip-path="url(#k0)">100</text>
<text class="sb" transform="translate(239.60,65.77) scale(1.0,1.088)" x="-78.75 -51.84 -26.92" y="0" font-size="48.4" fill="#000" clip-path="url(#k1)">110</text>
<text class="sb" transform="translate(368.80,1322.60) scale(1.0,1.088)" x="-13.46" y="0" font-size="48.4" fill="#000">0</text>
<text class="sb" transform="translate(575.63,1322.60) scale(1.0,1.088)" x="-38.38 -13.46 13.46" y="0" font-size="48.4" fill="#000" clip-path="url(#k2)">100</text>
<text class="sb" transform="translate(782.47,1322.60) scale(1.0,1.088)" x="-40.38 -13.46 13.46" y="0" font-size="48.4" fill="#000">200</text>
<text class="sb" transform="translate(989.30,1322.60) scale(1.0,1.088)" x="-40.38 -13.46 13.46" y="0" font-size="48.4" fill="#000">300</text>
<text class="sb" transform="translate(1196.13,1322.60) scale(1.0,1.088)" x="-40.38 -13.46 13.46" y="0" font-size="48.4" fill="#000">400</text>
<text class="sb" transform="translate(1402.96,1322.60) scale(1.0,1.088)" x="-40.38 -13.46 13.46" y="0" font-size="48.4" fill="#000">500</text>
<text class="sb" transform="translate(1609.80,1322.60) scale(1.0,1.088)" x="-40.38 -13.46 13.46" y="0" font-size="48.4" fill="#000">600</text>
<text class="sb" transform="translate(1738.00,1273.40) scale(1.0,1.088)" x="0.00 16.12 43.04 56.48" y="0" font-size="48.4" fill="#ef3f3f">-2.0</text>
<text class="sb" transform="translate(1738.00,1053.90) scale(1.0,1.088)" x="0.00 18.12 43.04 56.48" y="0" font-size="48.4" fill="#ef3f3f" clip-path="url(#k3)">-1.5</text>
<text class="sb" transform="translate(1738.00,834.40) scale(1.0,1.088)" x="0.00 18.12 43.04 56.48" y="0" font-size="48.4" fill="#ef3f3f" clip-path="url(#k4)">-1.0</text>
<text class="sb" transform="translate(1738.00,614.90) scale(1.0,1.088)" x="0.00 16.12 43.04 56.48" y="0" font-size="48.4" fill="#ef3f3f">-0.5</text>
<text class="sb" transform="translate(1738.00,395.40) scale(1.0,1.088)" x="0.00 26.92 40.36" y="0" font-size="48.4" fill="#ef3f3f">0.0</text>
<text class="sb" transform="translate(1738.00,175.90) scale(1.0,1.088)" x="0.00 26.92 40.36" y="0" font-size="48.4" fill="#ef3f3f">0.5</text>
<text class="sb" transform="translate(989.60,1455.00) scale(1.0,1.086)" font-size="60.5" text-anchor="middle" fill="#000">Temperature (°C)</text>
<text class="sb" transform="translate(96.00,653.80) rotate(-90) scale(1.0,1.05)" font-size="62.8" text-anchor="middle" fill="#000">Weight (%)</text>
<text class="sb" transform="translate(1927.70,650.00) rotate(-90) scale(1.0,1.04)" font-size="62.7" text-anchor="middle" fill="#000">DTG (% / min)</text>
<text class="sb" transform="translate(1506.90,906.30) scale(1.0,1.076)" font-size="54.1" text-anchor="start" fill="#000">75.52%</text>
<text class="sf" transform="translate(836.6,1616) scale(1,1.06)" font-size="82.2" fill="#000"><tspan font-size="71" dy="1.5">(</tspan><tspan dy="-1.5" dx="2.2" font-weight="bold">g</tspan><tspan font-size="71" dy="1.5" dx="0.5">)</tspan><tspan dy="-1.5" dx="2.2"> 100r-PC.</tspan></text>
</g>
</svg>
</body></html>
